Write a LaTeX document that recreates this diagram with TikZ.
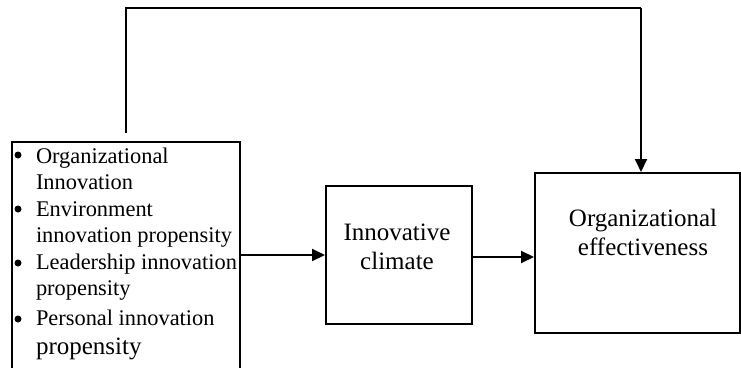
\documentclass[tikz,border=0pt]{standalone}
\usepackage{fontspec}
\setmainfont{Liberation Serif}
\usetikzlibrary{arrows.meta,calc}
\begin{document}
\begin{tikzpicture}[x=1pt,y=-1pt,
  line width=2pt,
  box/.style={draw,line width=2pt,inner sep=0pt,anchor=north west},
  arr/.style={-{Triangle[length=13pt,width=12pt]},line width=2pt},
  bul/.style={circle,fill,inner sep=0pt,minimum size=7pt},
  lt/.style={font=\fontsize{22.4}{26}\selectfont,anchor=base west,inner sep=0pt},
  bt/.style={font=\fontsize{25}{29}\selectfont,align=center,inner sep=0pt}]
\clip (0,0) rectangle (741,367);
% boxes
\node[box,minimum width=228pt,minimum height=260pt] (L) at (11,141) {};
\node[box,minimum width=146pt,minimum height=138pt] (M) at (325,185) {};
\node[box,minimum width=205pt,minimum height=160pt] (R) at (534,172) {};
% left box text
\node[bul] (b1) at (18,155) {};
\node[lt] (t1) at (35,163) {Organizational};
\node[lt] (t2) at (35,189) {Innovation};
\node[bul] (b2) at (18,209) {};
\node[lt] (t3) at (35,216) {Environment};
\node[lt] (t4) at (35,242) {innovation propensity};
\node[bul] (b3) at (18,263) {};
\node[lt] (t5) at (35,269) {Leadership innovation};
\node[lt] (t6) at (35,295) {propensity};
\node[bul] (b4) at (18,319) {};
\node[lt] (t7) at (35,325) {Personal innovation};
\node[lt,font=\fontsize{25}{29}\selectfont] (t8) at (35,354) {propensity};
% middle and right text
\node[bt] (mt) at (397,247) {Innovative\\climate};
\node[bt] (rt) at (643,232) {Organizational\\effectiveness};
% connectors
\coordinate (fs) at (126,133);
\coordinate (c1) at (126,8);
\coordinate (c2) at (641,8);
\coordinate (lo) at (240,255);
\draw (fs) -- (c1) -- (c2);
\draw[arr] (c2) -- (c2 |- R.north);
\draw[arr] (lo) -- (lo -| M.west);
\draw[arr] (M.east |- 0,257) -- (R.west |- 0,257);
\end{tikzpicture}
\end{document}
